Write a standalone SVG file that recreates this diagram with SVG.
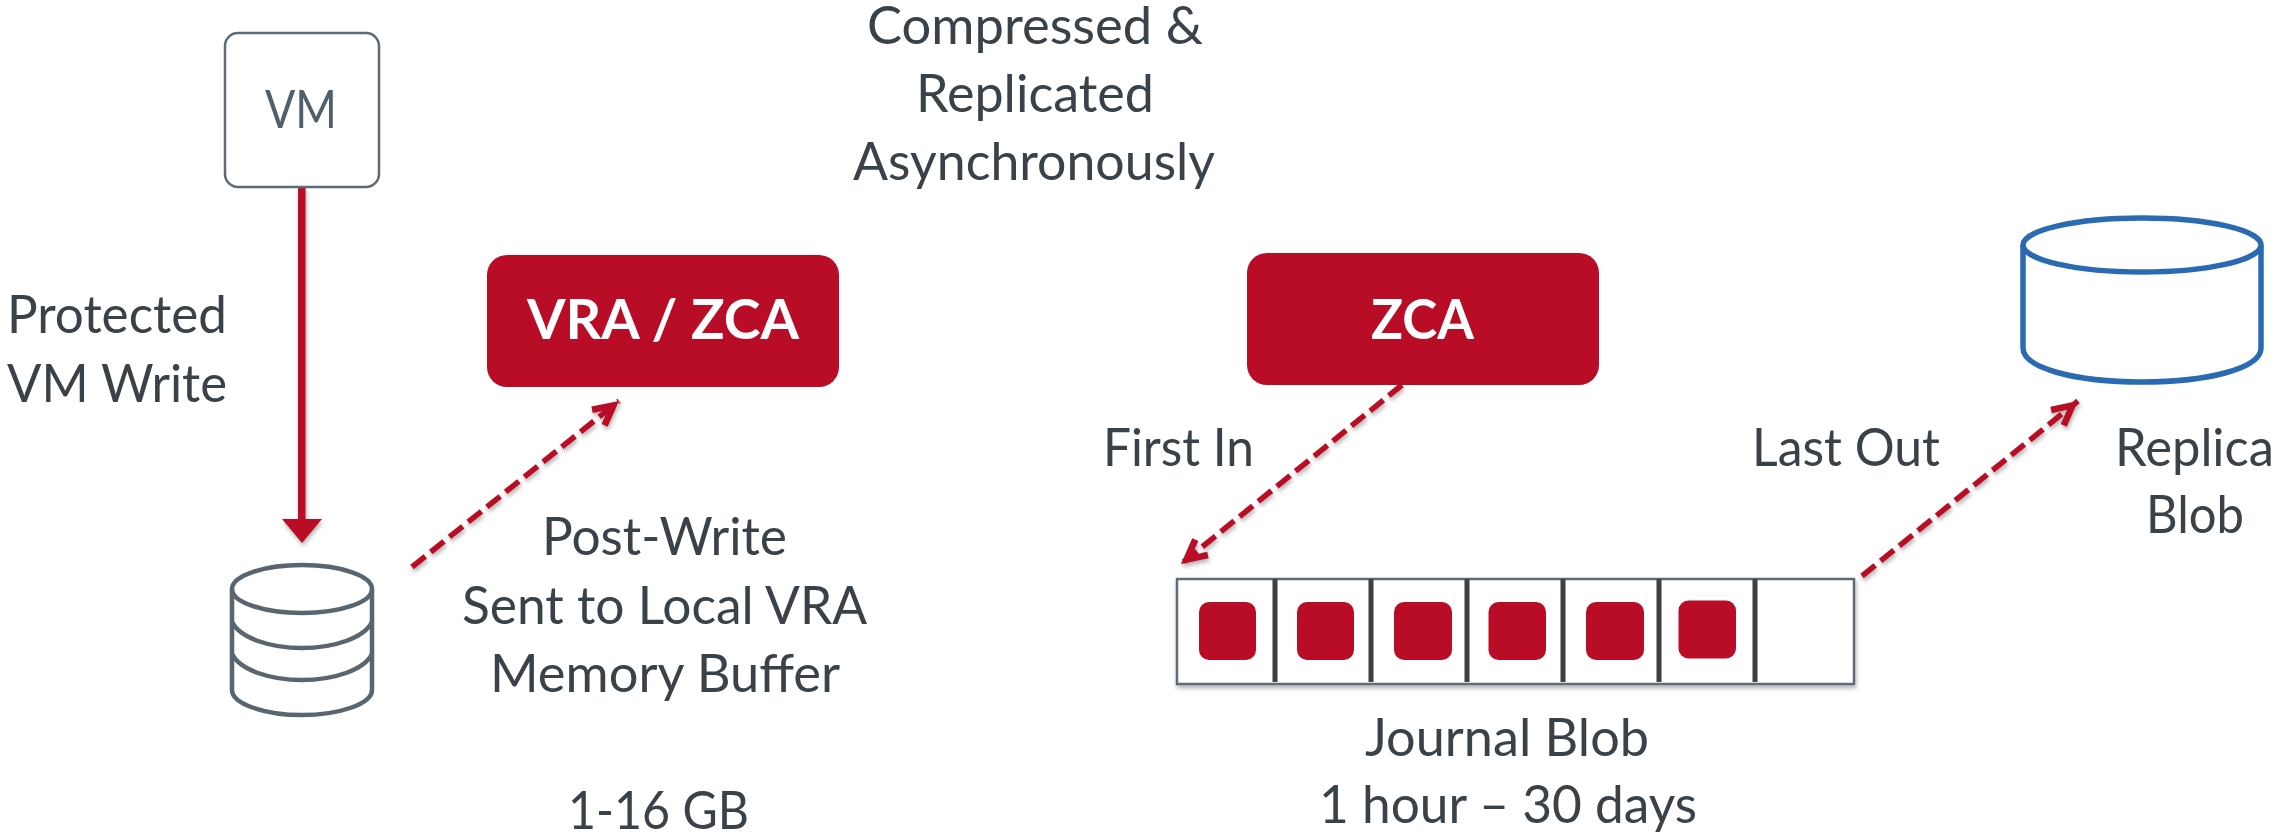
<svg xmlns="http://www.w3.org/2000/svg" width="2280" height="836" viewBox="0 0 2280 836">
<style>
text{font-family:"Lato","Open Sans",sans-serif;font-size:53px;fill:#3a4249}
.w{fill:#fff;font-weight:700;font-size:56px}
.vm{fill:#4f5f6b}
.red{fill:#b90c26}
.box{fill:#fff;stroke:#5d6b78;stroke-width:2.5}
.db{fill:none;stroke:#59656f;stroke-width:4.5}
.blue{fill:none;stroke:#2a6ab3;stroke-width:5.5}
.dash{fill:none;stroke:#b90c26;stroke-width:5.5;stroke-dasharray:17 7;marker-end:url(#h)}
.div{fill:#3a4047}
</style>
<defs>
<filter id="s" x="-10%" y="-10%" width="120%" height="125%"><feDropShadow dx="1" dy="3" stdDeviation="2" flood-color="#000" flood-opacity=".3"/></filter>
<marker id="h" markerUnits="userSpaceOnUse" markerWidth="40" markerHeight="40" viewBox="-32 -20 40 40" refX="0" refY="0" orient="auto"><path class="red" d="M0 0L-25-13-28-7-14 0-28 7-25 13Z"/></marker>
</defs>
<g id="connectors">
<g filter="url(#s)"><rect class="red" x="298" y="188" width="7.5" height="332"/><path class="red" d="M282 519H322L302 543Z"/></g>
<path class="dash" filter="url(#s)" d="M412 567L619 401"/>
<path class="dash" filter="url(#s)" d="M840 321H1244"/>
<path class="dash" filter="url(#s)" d="M1402 385L1181 564"/>
<path class="dash" filter="url(#s)" d="M1862 576L2078 401"/>
</g>
<g id="vm"><rect class="box" x="225" y="33" width="154" height="154" rx="13"/><text class="vm" x="265" y="128" textLength="72" lengthAdjust="spacingAndGlyphs">VM</text></g>
<g id="vm-disk"><path class="db" d="M232 589V690C232 704 265 715 302 715S372 704 372 690V589"/><ellipse class="db" cx="302" cy="589" rx="70" ry="24"/><path class="db" d="M232 622C240 638 270 648 302 648S364 638 372 622M232 654C240 670 270 680 302 680S364 670 372 654"/></g>
<g id="vra-zca"><rect class="red" x="487" y="255" width="352" height="132" rx="20"/><text class="w" x="527" y="339" textLength="272" lengthAdjust="spacingAndGlyphs">VRA / ZCA</text></g>
<g id="zca"><rect class="red" x="1247" y="253" width="352" height="132" rx="20"/><text class="w" x="1371" y="339" textLength="103" lengthAdjust="spacingAndGlyphs">ZCA</text></g>
<g id="journal">
<rect class="box" filter="url(#s)" x="1177" y="579" width="677" height="105"/>
<rect class="div" x="1272.500" y="579" width="5" height="103"/><rect class="div" x="1368.500" y="579" width="5" height="103"/><rect class="div" x="1464.500" y="579" width="5" height="103"/><rect class="div" x="1560.500" y="579" width="5" height="103"/><rect class="div" x="1656.500" y="579" width="5" height="103"/><rect class="div" x="1752.500" y="579" width="5" height="103"/>
<rect class="red" x="1199" y="602" width="57" height="58" rx="10"/><rect class="red" x="1297" y="602" width="57" height="58" rx="10"/><rect class="red" x="1394" y="602" width="58" height="58" rx="10"/><rect class="red" x="1488.500" y="602" width="57.500" height="58" rx="10"/><rect class="red" x="1586" y="602" width="58" height="58" rx="10"/><rect class="red" x="1678.500" y="600.500" width="57.500" height="58" rx="10"/>
</g>
<g id="replica"><path class="blue" d="M2023 245V348C2023 368 2075 382 2142 382S2261 368 2261 348V245"/><ellipse class="blue" cx="2142" cy="245" rx="119" ry="27"/></g>
<g id="labels">
<text x="867" y="44" textLength="336" lengthAdjust="spacingAndGlyphs">Compressed &amp;</text>
<text x="916" y="112" textLength="238" lengthAdjust="spacingAndGlyphs">Replicated</text>
<text x="853" y="180" textLength="362" lengthAdjust="spacingAndGlyphs">Asynchronously</text>
<text x="7" y="333" textLength="220" lengthAdjust="spacingAndGlyphs">Protected</text>
<text x="7" y="402" textLength="220" lengthAdjust="spacingAndGlyphs">VM Write</text>
<text x="542" y="555" textLength="245" lengthAdjust="spacingAndGlyphs">Post-Write</text>
<text x="462" y="624" textLength="405" lengthAdjust="spacingAndGlyphs">Sent to Local VRA</text>
<text x="490" y="692" textLength="350" lengthAdjust="spacingAndGlyphs">Memory Buffer</text>
<text x="568" y="829" textLength="181" lengthAdjust="spacingAndGlyphs">1-16 GB</text>
<text x="1103" y="466" textLength="151" lengthAdjust="spacingAndGlyphs">First In</text>
<text x="1752" y="466" textLength="188" lengthAdjust="spacingAndGlyphs">Last Out</text>
<text x="2115" y="466" textLength="159" lengthAdjust="spacingAndGlyphs">Replica</text>
<text x="2146" y="533" textLength="98" lengthAdjust="spacingAndGlyphs">Blob</text>
<text x="1365" y="756" textLength="284" lengthAdjust="spacingAndGlyphs">Journal Blob</text>
<text x="1319" y="823" textLength="378" lengthAdjust="spacingAndGlyphs">1 hour – 30 days</text>
</g>
</svg>
